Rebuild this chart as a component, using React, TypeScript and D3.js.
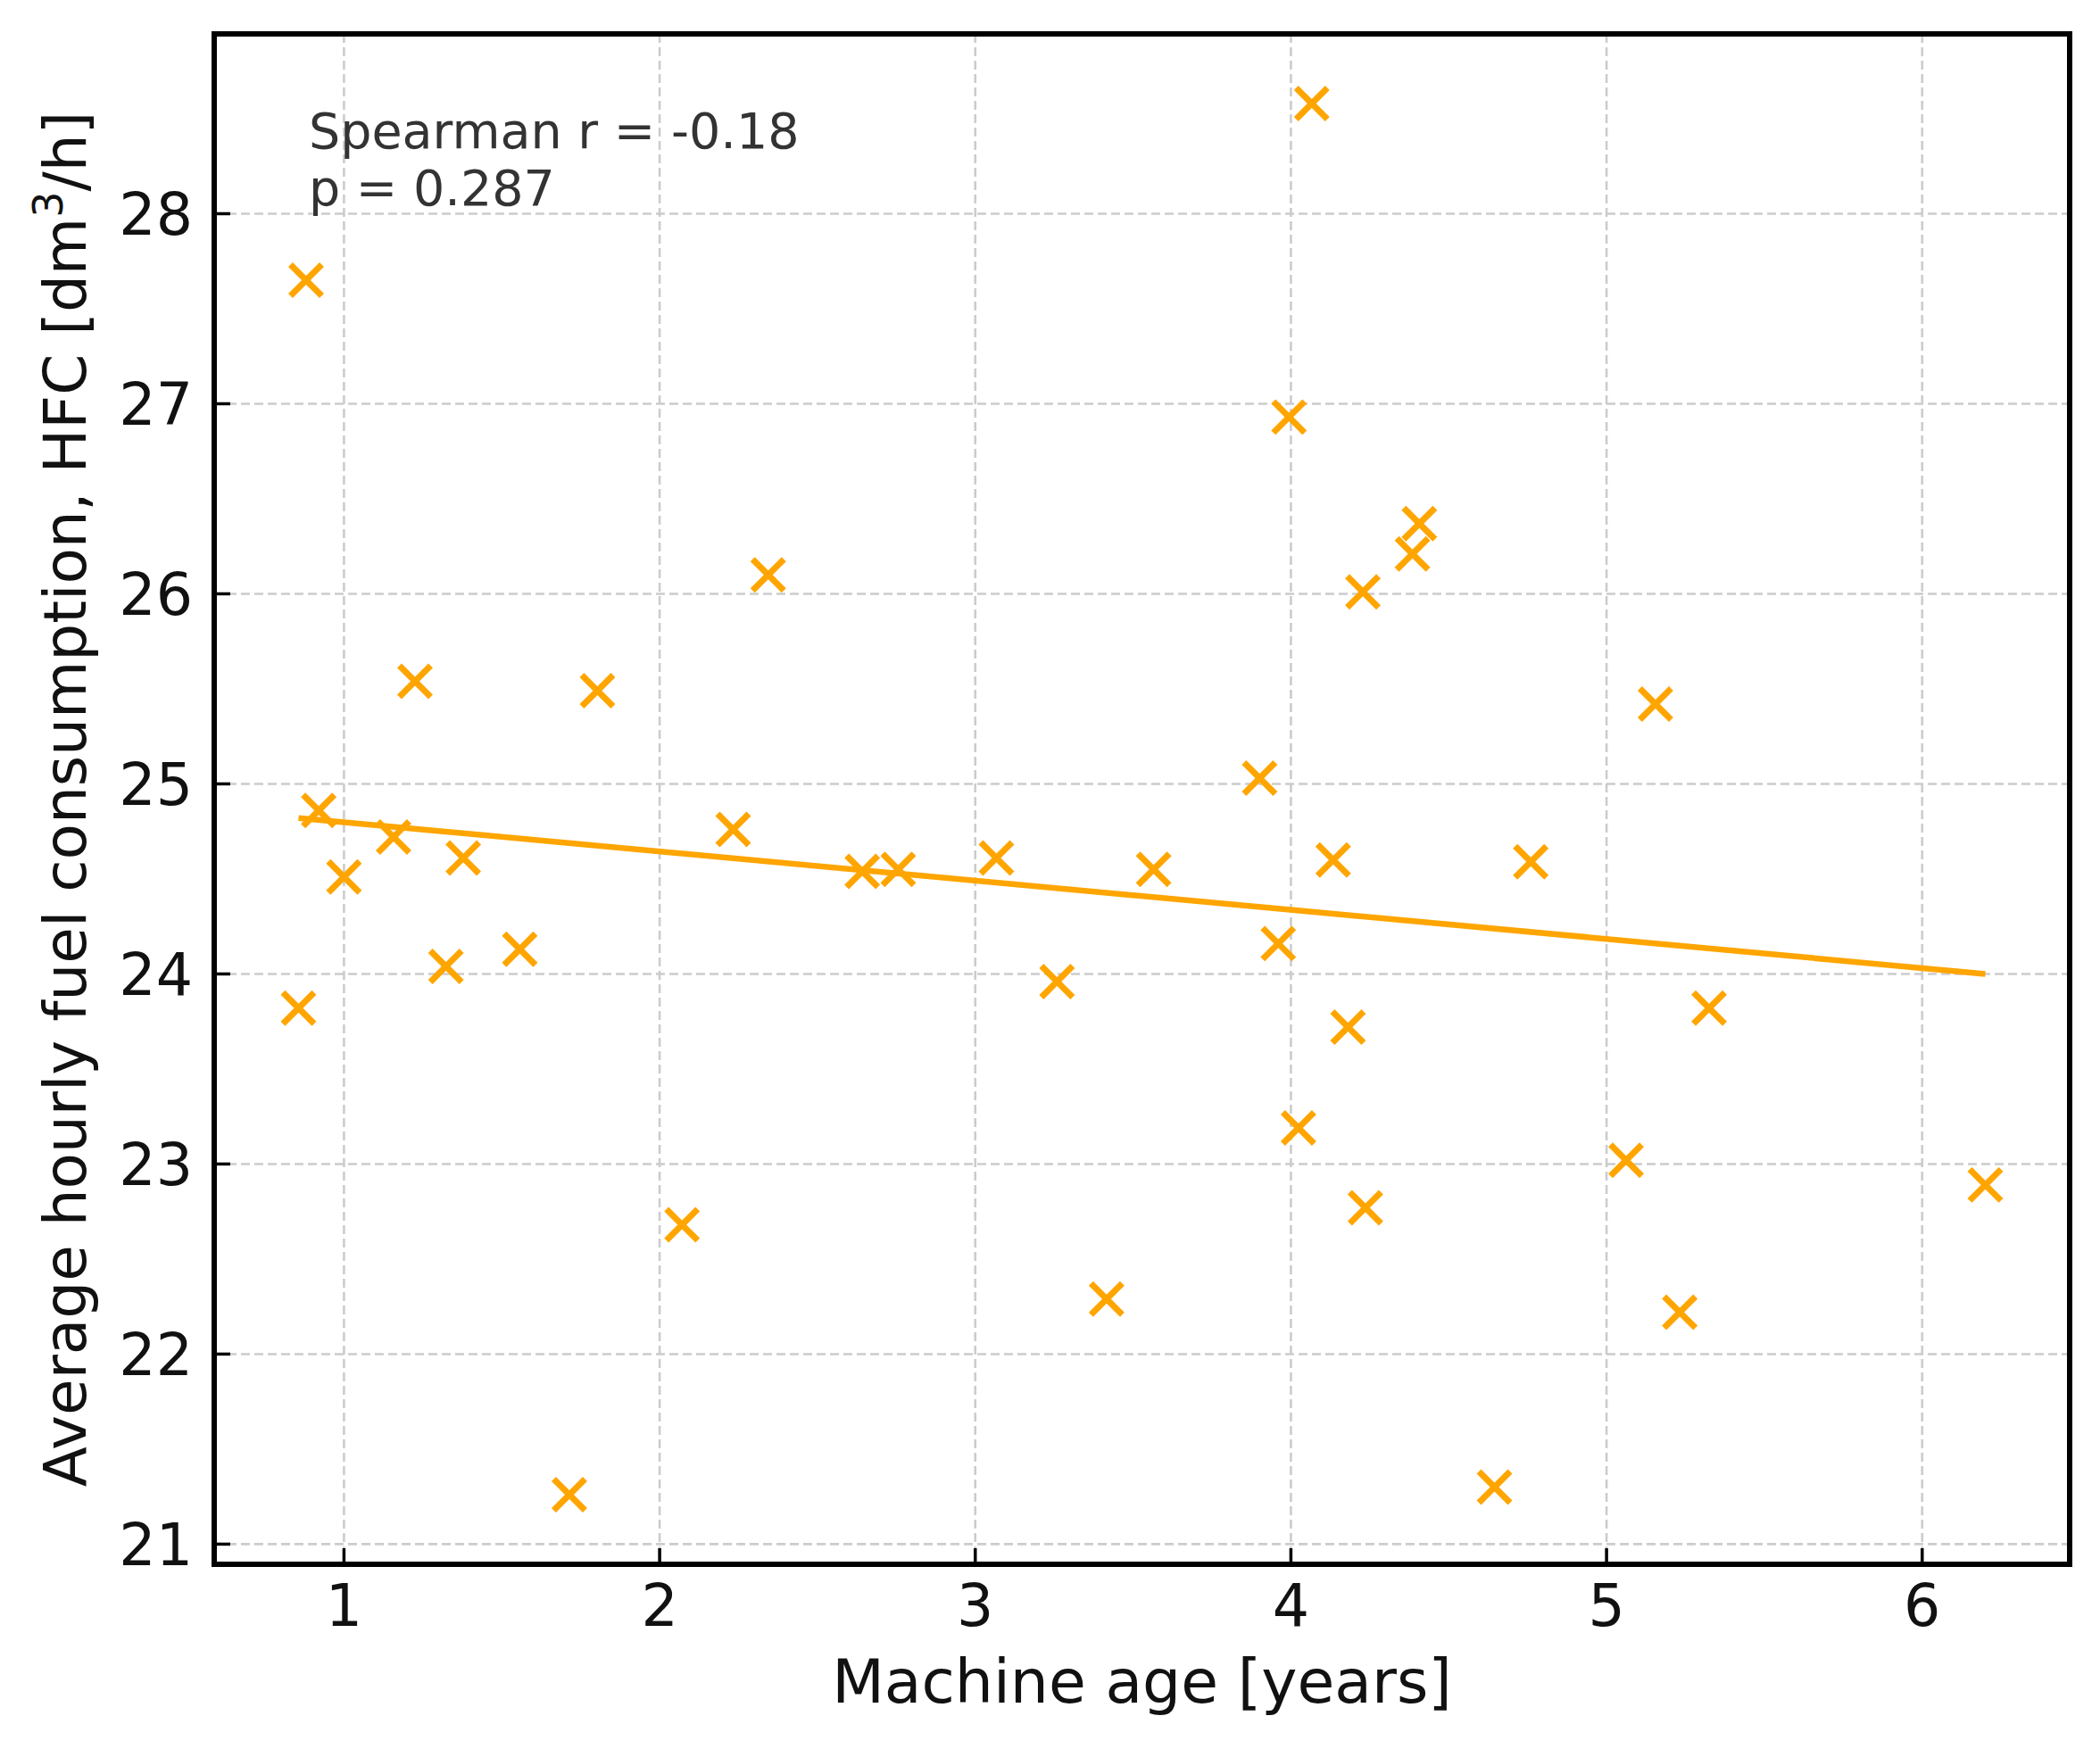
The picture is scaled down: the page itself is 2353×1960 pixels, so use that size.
import React from "react";
import * as d3 from "d3";

const ageYears = [
  0.88, 0.856, 0.92, 1.0, 1.157, 1.225, 1.323, 1.378, 1.557, 1.714, 1.803, 2.071, 2.233, 2.344,
  2.642, 2.756, 3.067, 3.259, 3.416, 3.565, 3.901, 3.96, 3.994, 4.024, 4.066, 4.134, 4.181,
  4.228, 4.236, 4.385, 4.407, 4.645, 4.76, 5.062, 5.155, 5.232, 5.325, 6.2,
];
const hfcValues = [
  27.65, 23.82, 24.86, 24.51, 24.72, 25.54, 24.04, 24.61, 24.13, 21.26, 25.49, 22.68, 24.76, 26.1,
  24.54, 24.55, 24.61, 23.96, 22.29, 24.55, 25.03, 24.16, 26.93, 23.19, 28.58, 24.6, 23.72,
  26.01, 22.77, 26.21, 26.37, 21.3, 24.59, 23.02, 25.42, 22.22, 23.82, 22.89,
];
const trendX = [0.856, 6.2];
const trendY = [24.82, 24.0];
const xTicks = [1, 2, 3, 4, 5, 6];
const yTicks = [21, 22, 23, 24, 25, 26, 27, 28];
const annotationLines = ["Spearman r = -0.18", "p = 0.287"];

const W = 2353;
const H = 1960;
const left = 240;
const right = 2319;
const top = 38;
const bottom = 1753;
const ORANGE = "#ffa500";
const FONT = "'DejaVu Sans', sans-serif";

function padded(vals: number[]): [number, number] {
  const [a, b] = d3.extent(vals) as [number, number];
  const m = (b - a) * 0.05;
  return [a - m, b + m];
}

export default function App() {
  const x = d3.scaleLinear().domain(padded(ageYears)).range([left, right]);
  const y = d3.scaleLinear().domain(padded(hfcValues)).range([bottom, top]);
  const line = d3
    .line<number>()
    .x((d) => x(trendX[d]))
    .y((d) => y(trendY[d]));
  const ms = 17.5;
  const tickLen = 18;

  return (
    <svg
      width={W}
      height={H}
      style={{ position: "absolute", left: 0, top: 0, background: "#fff" }}
      fontFamily={FONT}
    >
      <rect x={0} y={0} width={W} height={H} fill="#fff" />
      {/* grid */}
      <g stroke="#cccccc" strokeWidth={2.6} strokeDasharray="10,5">
        {xTicks.map((t) => (
          <line key={"gx" + t} x1={x(t)} x2={x(t)} y1={top} y2={bottom} />
        ))}
        {yTicks.map((t) => (
          <line key={"gy" + t} x1={left} x2={right} y1={y(t)} y2={y(t)} />
        ))}
      </g>
      {/* trend line */}
      <path d={line(d3.range(trendX.length)) || ""} fill="none" stroke={ORANGE} strokeWidth={6.5} />
      {/* markers */}
      <g stroke={ORANGE} strokeWidth={7} strokeLinecap="butt">
        {ageYears.map((a, i) => {
          const cx = x(a);
          const cy = y(hfcValues[i]);
          return (
            <g key={i}>
              <line x1={cx - ms} y1={cy - ms} x2={cx + ms} y2={cy + ms} />
              <line x1={cx - ms} y1={cy + ms} x2={cx + ms} y2={cy - ms} />
            </g>
          );
        })}
      </g>
      {/* ticks (inward) */}
      <g stroke="#000" strokeWidth={3.5}>
        {xTicks.map((t) => (
          <line key={"tx" + t} x1={x(t)} x2={x(t)} y1={bottom} y2={bottom - tickLen} />
        ))}
        {yTicks.map((t) => (
          <line key={"ty" + t} x1={left} x2={left + tickLen} y1={y(t)} y2={y(t)} />
        ))}
      </g>
      {/* frame */}
      <rect
        x={left}
        y={top}
        width={right - left}
        height={bottom - top}
        fill="none"
        stroke="#000"
        strokeWidth={6}
      />
      {/* tick labels */}
      <g fontSize={65} fill="#111">
        {xTicks.map((t) => (
          <text key={"lx" + t} x={x(t)} y={1822} textAnchor="middle">
            {t}
          </text>
        ))}
        {yTicks.map((t) => (
          <text key={"ly" + t} x={216} y={y(t)} dy="0.36em" textAnchor="end">
            {t}
          </text>
        ))}
      </g>
      {/* axis labels */}
      <text x={(left + right) / 2} y={1908} fontSize={68} textAnchor="middle" fill="#111">
        Machine age [years]
      </text>
      <text
        transform={`translate(96,${(top + bottom) / 2}) rotate(-90)`}
        fontSize={66}
        textAnchor="middle"
        fill="#111"
      >
        Average hourly fuel consumption, HFC [dm
        <tspan fontSize={46} dy={-26}>3</tspan>
        <tspan dy={26}>/h]</tspan>
      </text>
      {/* annotation */}
      <g fontSize={55.5} fill="#333">
        {annotationLines.map((s, i) => (
          <text key={i} x={346} y={166 + i * 64}>
            {s}
          </text>
        ))}
      </g>
    </svg>
  );
}
